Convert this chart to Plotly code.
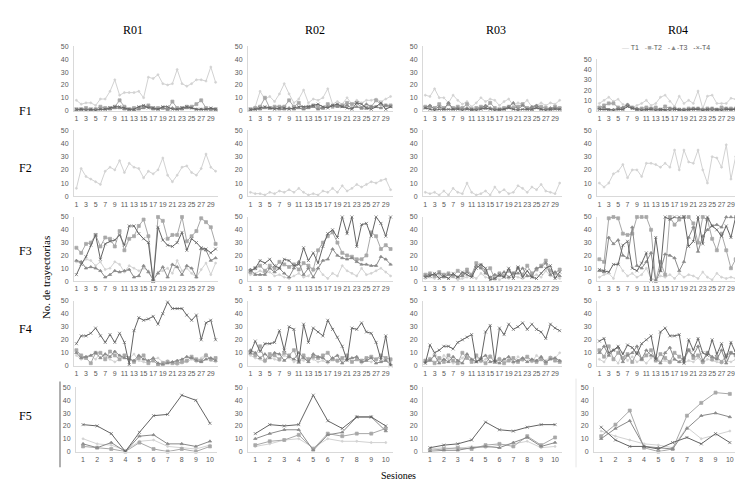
import plotly.graph_objects as go

W, H = 743, 484

rows = ["F1", "F2", "F3", "F4", "F5"]
cols = ["R01", "R02", "R03", "R04"]
series = ["T1", "T2", "T3", "T4"]
sessions30 = list(range(1, 31))
sessions10 = list(range(1, 11))
xticks30 = list(range(1, 30, 2))
yticks = [0, 10, 20, 30, 40, 50]

# ---------------- F1 ----------------
F1_R01_T1 = [8,5,6,6,4,9,9,15,24,12,14,14,14,15,10,26,25,28,21,20,21,32,21,19,21,24,24,23,34,22]
F1_R01_T2 = [1,1,2,1,1,3,2,2,3,8,3,1,2,2,3,4,2,2,2,1,7,2,2,3,3,5,8,2,1,1]
F1_R01_T3 = [0,1,1,0,1,1,1,1,2,2,1,1,0,1,2,3,1,1,2,1,2,1,1,2,2,1,1,1,1,1]
F1_R01_T4 = [1,1,0,1,0,1,1,2,3,3,2,1,1,3,4,2,2,1,3,3,1,1,2,3,2,1,1,1,2,1]

F1_R02_T1 = [1,3,15,9,11,7,13,21,13,6,9,16,6,9,8,10,17,5,7,5,10,5,8,6,8,8,9,7,9,11]
F1_R02_T2 = [1,2,3,10,2,3,3,3,8,3,6,2,3,4,3,2,5,3,4,4,6,5,6,2,2,3,8,5,4,4]
F1_R02_T3 = [0,1,1,2,2,2,1,1,2,1,2,1,2,3,1,2,3,4,3,3,4,2,3,2,5,3,3,2,4,3]
F1_R02_T4 = [1,1,2,3,2,1,2,2,1,2,3,3,3,4,5,3,2,4,5,3,2,1,6,5,2,1,3,6,1,3]

F1_R03_T1 = [12,11,17,10,10,6,12,8,5,7,3,6,10,7,9,8,4,7,9,4,6,5,8,3,4,6,4,6,5,8]
F1_R03_T2 = [3,3,2,5,2,5,2,3,2,5,1,2,3,2,6,2,1,2,3,2,3,5,2,1,3,3,2,1,3,2]
F1_R03_T3 = [2,4,1,3,1,6,1,2,1,2,0,1,2,4,2,1,0,1,3,6,1,4,1,3,4,1,1,2,2,1]
F1_R03_T4 = [2,1,0,1,1,1,1,1,0,1,1,0,1,2,1,0,1,1,2,1,0,1,1,1,2,1,0,1,1,1]

F1_R04_T1 = [7,10,13,9,11,6,4,3,5,7,10,5,7,13,15,9,4,14,7,10,7,19,2,14,15,7,7,7,12,11]
F1_R04_T2 = [3,5,7,7,3,2,5,3,1,2,3,2,3,1,4,2,2,1,1,2,2,2,1,2,2,1,3,2,2,2]
F1_R04_T3 = [2,3,1,1,2,3,6,3,2,1,1,2,1,1,0,2,2,0,1,1,2,2,1,1,2,1,1,2,1,2]
F1_R04_T4 = [1,1,1,0,1,1,4,2,1,0,1,1,0,1,1,0,1,1,0,1,1,1,0,1,0,1,0,1,1,1]

# ---------------- F2 (only T1 visible) ----------------
F2_R01_T1 = [6,21,15,13,11,9,19,22,20,27,18,25,22,21,14,19,17,20,29,16,11,16,22,23,18,16,21,32,22,19]
F2_R02_T1 = [3,2,2,1,3,2,4,3,5,3,6,3,1,2,1,4,3,6,3,8,4,6,9,7,9,11,10,12,13,5]
F2_R03_T1 = [3,2,3,1,4,1,6,3,2,10,3,1,2,4,1,7,3,5,2,3,8,6,3,7,5,9,4,3,2,10]
F2_R04_T1 = [10,7,10,17,19,24,14,20,20,15,25,25,24,22,25,22,35,20,35,26,25,35,20,10,30,29,22,39,13,30]

# ---------------- F3 ----------------
F3_R01_T1 = [15,14,17,16,12,15,9,10,15,13,7,12,10,8,10,8,2,7,8,10,6,16,8,10,6,3,9,14,5,14]
F3_R01_T2 = [26,22,29,30,36,27,34,33,27,39,24,33,35,43,48,35,0,50,47,33,36,36,50,31,35,39,49,46,42,29]
F3_R01_T3 = [16,15,10,11,10,8,3,5,8,7,8,9,3,4,12,7,1,6,11,3,13,11,5,12,10,3,25,24,16,18]
F3_R01_T4 = [5,13,19,28,36,17,29,31,32,36,28,43,43,37,33,30,0,42,32,28,27,30,38,24,33,30,26,25,22,25]

F3_R02_T1 = [5,6,8,6,7,4,5,3,2,4,6,3,4,8,10,5,2,6,4,12,8,6,4,10,5,6,8,10,7,4]
F3_R02_T2 = [7,10,12,8,12,10,15,13,11,13,9,14,12,9,24,30,35,38,30,22,20,19,17,17,20,38,35,25,28,25]
F3_R02_T3 = [9,5,5,5,10,7,10,6,3,10,15,5,10,3,10,16,17,25,20,18,17,18,15,13,13,12,12,19,17,13]
F3_R02_T4 = [8,10,16,14,17,12,10,17,16,12,13,26,16,22,14,27,37,40,34,50,37,50,27,44,45,35,50,45,35,50]

F3_R03_T1 = [2,3,2,4,5,2,3,1,2,3,4,2,6,3,2,4,1,3,2,4,3,2,4,3,5,3,8,4,3,2]
F3_R03_T2 = [5,6,4,7,5,6,4,8,5,9,5,14,12,8,10,2,6,4,8,6,10,5,12,6,9,12,16,8,6,9]
F3_R03_T3 = [4,5,5,6,3,5,5,3,4,7,4,12,10,6,3,5,4,7,3,6,6,10,4,4,10,11,14,5,7,4]
F3_R03_T4 = [3,4,6,2,4,2,6,3,7,5,3,10,13,10,1,2,5,3,10,2,11,3,8,3,2,6,10,12,2,7]

F3_R04_T1 = [3,5,6,2,14,8,4,6,3,5,10,2,1,4,3,5,2,6,3,5,4,2,7,3,1,6,3,2,3,2]
F3_R04_T2 = [17,15,49,50,49,37,36,37,50,50,50,40,0,15,5,50,44,48,50,50,45,30,50,48,33,24,37,24,10,17]
F3_R04_T3 = [8,7,34,29,32,20,18,42,12,10,15,22,0,8,21,20,18,8,15,34,42,23,35,40,43,44,42,50,50,50]
F3_R04_T4 = [9,8,7,13,13,28,31,10,8,14,22,0,34,8,50,48,50,50,50,27,31,50,29,50,43,40,35,43,34,50]

# ---------------- F4 ----------------
F4_R01_T1 = [8,5,6,8,5,10,7,5,3,5,8,6,9,4,3,2,5,6,3,4,2,1,2,3,5,3,6,9,4,3]
F4_R01_T2 = [12,8,6,2,10,10,5,11,8,5,8,6,3,6,8,2,4,1,2,3,2,2,3,4,7,5,4,8,5,6]
F4_R01_T3 = [10,6,7,8,10,6,9,7,11,8,6,5,4,8,5,4,6,2,1,2,3,4,5,7,6,4,3,5,6,4]
F4_R01_T4 = [17,23,23,25,29,23,18,24,18,25,18,1,27,37,35,36,38,32,40,49,44,44,44,39,35,39,20,33,35,20]

F4_R02_T1 = [8,6,5,3,7,5,4,8,6,3,5,4,6,5,3,4,2,5,3,4,6,3,5,2,4,3,5,6,4,3]
F4_R02_T2 = [10,8,15,4,9,8,5,10,8,12,3,8,5,7,6,8,10,5,4,6,8,3,5,4,6,7,5,8,6,5]
F4_R02_T3 = [12,10,6,9,6,10,9,4,7,5,10,6,3,9,7,6,3,6,8,2,5,6,7,3,4,6,2,3,4,1]
F4_R02_T4 = [10,19,11,17,17,18,27,12,30,28,3,32,18,29,26,23,35,28,22,15,4,29,28,33,26,25,18,5,23,0]

F4_R03_T1 = [2,6,3,4,8,5,2,3,6,9,4,7,3,5,8,4,6,3,5,2,7,4,6,3,8,5,4,7,6,10]
F4_R03_T2 = [4,5,2,6,3,8,4,2,10,6,3,8,4,2,7,3,5,2,4,6,3,5,7,4,3,5,2,6,4,3]
F4_R03_T3 = [3,4,8,2,5,3,7,4,2,9,5,3,6,8,3,4,2,5,7,3,4,6,3,5,4,7,3,5,6,4]
F4_R03_T4 = [2,16,10,12,15,15,13,18,20,22,24,3,5,26,31,3,29,24,32,28,30,33,28,32,28,26,21,32,29,27]

F4_R04_T1 = [5,3,8,6,2,10,4,7,3,5,2,6,8,3,4,2,5,3,2,4,3,6,2,5,4,3,2,4,3,5]
F4_R04_T2 = [12,7,15,5,10,6,9,3,10,5,8,12,4,9,6,3,10,7,4,12,6,8,3,10,5,7,3,8,10,8]
F4_R04_T3 = [10,15,8,12,14,3,8,10,15,5,12,8,6,2,10,14,5,3,6,12,8,15,4,10,7,5,12,2,10,9]
F4_R04_T4 = [19,21,10,12,15,9,16,14,9,17,20,23,5,26,29,23,23,24,2,20,12,21,10,8,20,9,17,6,18,10]

# ---------------- F5 (10 sessions) ----------------
F5_R01_T1 = [10,6,5,1,8,9,4,3,2,5]
F5_R01_T2 = [4,3,2,0,7,2,0,2,0,4]
F5_R01_T3 = [6,3,7,0,12,13,6,6,4,8]
F5_R01_T4 = [21,20,14,0,15,28,29,44,40,22]

F5_R02_T1 = [4,6,9,10,3,10,8,8,7,7]
F5_R02_T2 = [5,8,9,13,2,14,12,14,14,18]
F5_R02_T3 = [10,14,17,17,1,13,15,27,27,16]
F5_R02_T4 = [14,21,20,21,44,24,18,27,27,20]

F5_R03_T1 = [2,3,2,4,3,5,6,8,3,4]
F5_R03_T2 = [1,2,3,2,5,6,4,12,5,11]
F5_R03_T3 = [0,1,1,3,4,3,7,11,4,7]
F5_R03_T4 = [3,5,6,9,23,17,16,19,21,21]

F5_R04_T1 = [16,12,9,6,5,3,19,10,13,16]
F5_R04_T2 = [12,21,32,3,0,2,28,38,46,45]
F5_R04_T3 = [10,18,24,4,3,2,18,28,30,27]
F5_R04_T4 = [19,9,4,4,2,7,11,6,14,7]

g = globals()

colors = {"T1": "#d2d2d2", "T2": "#a8a8a8", "T3": "#8a8a8a", "T4": "#636363"}
symbols = {"T1": "circle", "T2": "square", "T3": "triangle-up", "T4": "x-thin"}
msize = {"T1": 2, "T2": 3, "T3": 3, "T4": 3}

# pixel layout (left, right) for columns, (top, bottom) for rows
col_px = [(66, 210), (240, 385), (415, 554), (589, 730)]
col_px_f5 = [(68, 209), (240, 385), (415, 554), (586, 729)]
row_px = {"F1": (35, 100), "F2": (120, 187), "F3": (208, 273), "F4": (293, 359), "F5": (381, 446)}

fig = go.Figure()
layout = {}
tickfont = dict(family="Liberation Sans, Arial", size=7, color="#595959")

n = 0
for ri, r in enumerate(rows):
    for ci, c in enumerate(cols):
        n += 1
        xa = "x" if n == 1 else f"x{n}"
        ya = "y" if n == 1 else f"y{n}"
        xl, xr = (col_px_f5 if r == "F5" else col_px)[ci]
        yt, yb = row_px[r]
        if r == "F1" and c == "R04":
            yt = 48
        xs = sessions10 if r == "F5" else sessions30
        for s in series:
            name = f"{r}_{c}_{s}"
            if name not in g:
                continue
            fig.add_trace(go.Scatter(
                x=xs, y=g[name], mode="lines+markers", name=s,
                line=dict(color=colors[s], width=1),
                marker=dict(symbol=symbols[s], size=msize[s], color=colors[s],
                            line=dict(color=colors[s], width=0.7)),
                xaxis=xa, yaxis=ya, showlegend=False, cliponaxis=False))
        layout[("xaxis" if n == 1 else f"xaxis{n}")] = dict(
            domain=[xl / W, xr / W], anchor=ya,
            range=[0.5, 10.5] if r == "F5" else [0.5, 30.5],
            tickmode="array",
            tickvals=sessions10 if r == "F5" else xticks30,
            tickangle=0,
            showgrid=False, zeroline=False, showline=True,
            linecolor="#d9d9d9", linewidth=1, ticks="",
            tickfont=tickfont, ticklabelstandoff=1, fixedrange=True)
        layout[("yaxis" if n == 1 else f"yaxis{n}")] = dict(
            domain=[1 - yb / H, 1 - yt / H], anchor=xa,
            range=[0, 50], tickmode="array", tickvals=yticks,
            showgrid=False, zeroline=False, showline=True,
            linecolor="#d9d9d9", linewidth=1, ticks="",
            tickfont=tickfont, ticklabelstandoff=3, fixedrange=True)

fig.update_layout(**layout)

annotations = []
title_font = dict(family="Liberation Serif, Times New Roman", size=12, color="#000000")
title_x = [125, 307, 488, 670]
for ci, c in enumerate(cols):
    annotations.append(dict(text=c, x=title_x[ci] / W, y=1 - 18 / H,
                            xref="paper", yref="paper", showarrow=False,
                            font=title_font, xanchor="center", yanchor="middle"))
row_label_y = {"F1": 100, "F2": 158, "F3": 242, "F4": 322, "F5": 410}
for r in rows:
    annotations.append(dict(text=r, x=17 / W, y=1 - row_label_y[r] / H,
                            xref="paper", yref="paper", showarrow=False,
                            font=title_font, xanchor="center", yanchor="middle"))
annotations.append(dict(text="Sesiones", x=390 / W, y=1 - 470 / H, xref="paper", yref="paper",
                        showarrow=False, font=dict(family="Liberation Serif", size=10, color="#000"),
                        xanchor="center", yanchor="middle"))
annotations.append(dict(text="No. de trayectorias", x=38 / W, y=1 - 270 / H, xref="paper", yref="paper",
                        showarrow=False, textangle=-90,
                        font=dict(family="Liberation Serif", size=11, color="#000"),
                        xanchor="center", yanchor="middle"))
legend_txt = ("<span style='color:%s'>—</span> T1   <span style='color:%s'>-■-</span>T2   "
              "<span style='color:%s'>-▲-</span>T3   <span style='color:%s'>-×-</span>T4") % (
    colors["T1"], colors["T2"], colors["T3"], colors["T4"])
annotations.append(dict(text=legend_txt, x=612 / W, y=1 - 36 / H, xref="paper", yref="paper",
                        showarrow=False, font=dict(family="Liberation Sans", size=7, color="#595959"),
                        xanchor="left", yanchor="middle"))

fig.update_layout(
    width=W, height=H, margin=dict(l=0, r=0, t=0, b=0),
    paper_bgcolor="white", plot_bgcolor="white",
    annotations=annotations, showlegend=False,
    shapes=[dict(type="line", xref="paper", yref="paper", x0=52 / W, x1=52 / W,
                 y0=1 - 462 / H, y1=1 - 375 / H, line=dict(color="#b0b0b0", width=2)),
            dict(type="line", xref="paper", yref="paper", x0=568 / W, x1=568 / W,
                 y0=1 - 462 / H, y1=1 - 372 / H, line=dict(color="#e6e6e6", width=1))])

fig.write_html("out.html")
